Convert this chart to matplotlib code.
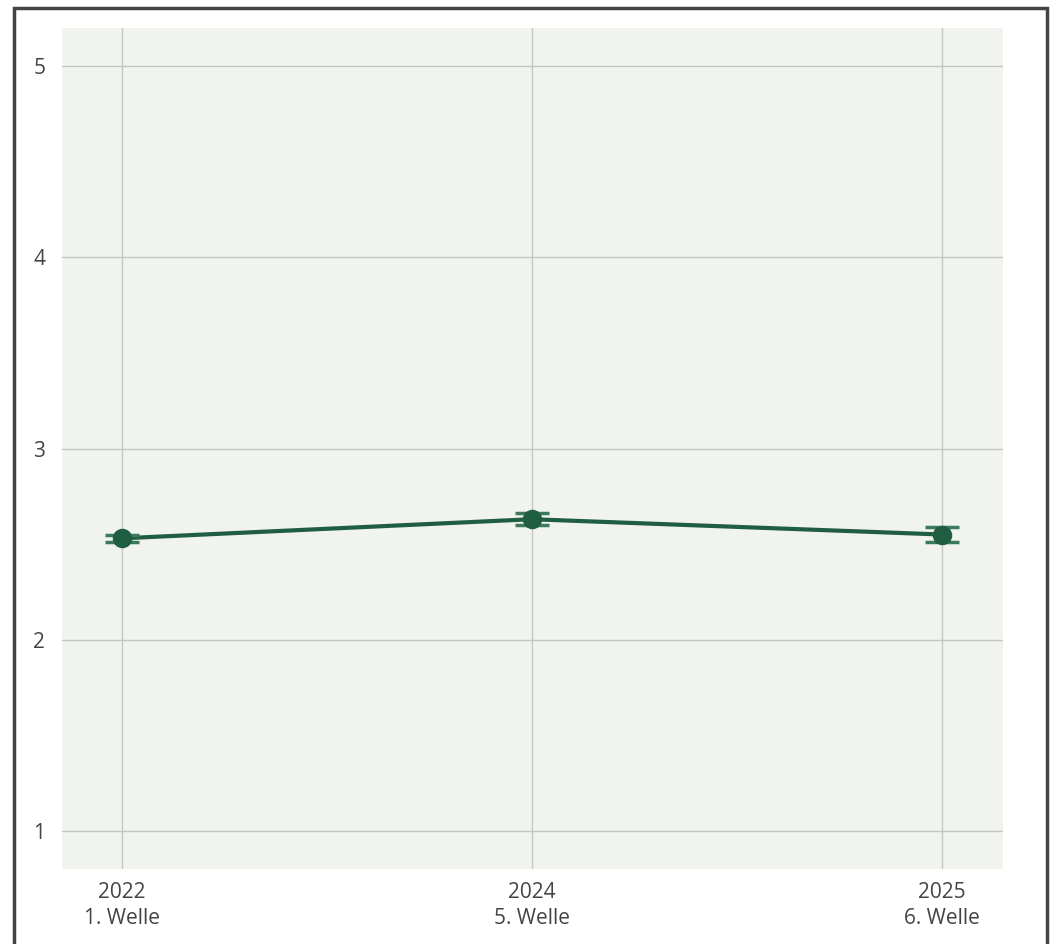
import matplotlib
matplotlib.use("Agg")
import matplotlib.pyplot as plt
from matplotlib.patches import Rectangle

# data
labels = ["2022\n1. Welle", "2024\n5. Welle", "2025\n6. Welle"]
values = [2.53, 2.63, 2.55]
errors = [0.02, 0.03, 0.04]
yticks = [1, 2, 3, 4, 5]

plt.rcParams['font.family'] = ['Open Sans', 'DejaVu Sans']

fig = plt.figure(figsize=(10.5, 9.44), dpi=100)
ax = fig.add_axes([62 / 1050, 1 - 869 / 944, 941 / 1050, 841 / 944])
ax.set_facecolor("#f1f3ee")

x = list(range(len(values)))
ax.plot(x, values, color="#1f5e43", lw=3, zorder=3)
ax.errorbar(x, values, yerr=errors, fmt="none", ecolor="#3d7a5c",
            elinewidth=2, capsize=12, capthick=2.5, zorder=4)
ax.plot(x, values, "o", color="#1f5e43", ms=13, zorder=5)

ax.set_xlim(-0.146, 2.15)
ax.set_ylim(0.8, 5.2)
ax.set_xticks(x)
ax.set_xticklabels(labels, linespacing=1.35)
ax.set_yticks(yticks)
ax.grid(True, color="#c4c6c4", lw=1)
ax.set_axisbelow(True)
ax.tick_params(length=0, labelsize=15, labelcolor="#444444")
ax.tick_params(axis="x", pad=9)
ax.tick_params(axis="y", pad=12)
for s in ax.spines.values():
    s.set_visible(False)

# outer frame
fig.patches.append(Rectangle((14 / 1050, -0.05), 1033 / 1050, 1.05 - 8 / 944,
                             transform=fig.transFigure, fill=False,
                             edgecolor="#444444", lw=2.5))

fig.savefig("out.png", dpi=100)
